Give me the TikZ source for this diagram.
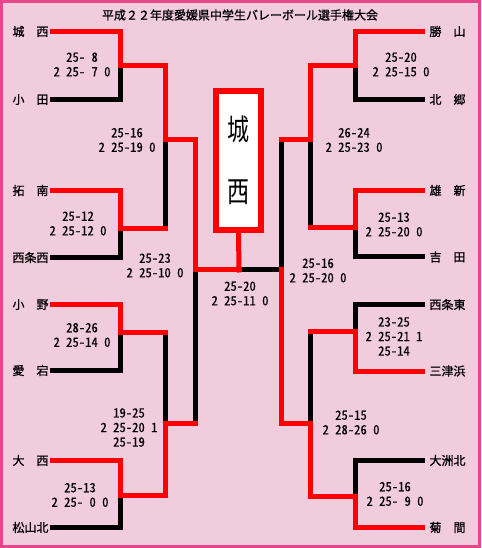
\documentclass[tikz,border=0pt]{standalone}
\usepackage{fontspec}
\usepackage{graphicx}
\setmainfont{Noto Sans CJK JP}
\newfontfamily\scorefont{Noto Sans CJK JP}[RawFeature=+hwid, RawFeature={embolden=0.5}]
\newfontfamily\labelfont{Noto Sans CJK JP}[RawFeature={embolden=0.9}]
\definecolor{cbg}{HTML}{F0CCDD}
\definecolor{cframe}{HTML}{E8458C}
\definecolor{cwin}{HTML}{FF0000}
\definecolor{closs}{HTML}{000000}
\tikzset{
  team/.style={inner sep=0pt, font=\labelfont\fontsize{9}{9}\selectfont},
  teamL/.style={team, anchor=east, outer sep=3pt},
  teamR/.style={team, anchor=west, outer sep=5.25pt},
  score/.style={inner sep=0pt, align=center, font=\scorefont\fontsize{9.5}{10.9}\selectfont},
  bar/.style={line width=3.75pt, line cap=rect, line join=miter},
  win/.style={bar, draw=cwin},
  lose/.style={bar, draw=closs},
  champ/.style={draw=cwin, line width=4.5pt, fill=white, minimum width=33.75pt, minimum height=104.25pt, inner sep=0pt, align=center, font=\fontsize{22}{46.5}\selectfont},
}
\begin{document}
\begin{tikzpicture}[x=0.75pt,y=-0.75pt]
\useasboundingbox (0,0) rectangle (481,548);
\fill[cbg] (0,0) rectangle (481,548);
\draw[cframe, line width=2.25pt] (1.5,1.5) rectangle (479.5,546);
\node[font=\labelfont\fontsize{9}{9}\selectfont] (title) at (240,15) {平成２２年度愛媛県中学生バレーボール選手権大会};
\node[teamL] (josai) at (52.5,31.5) {城　西};
\node[teamL] (oda) at (52.5,99.5) {小　田};
\node[teamL] (takunan) at (52.5,190.5) {拓　南};
\node[teamL] (saijonishi) at (52.5,257.5) {西条西};
\node[teamL] (ono) at (52.5,304.5) {小　野};
\node[teamL] (atago) at (52.5,370.5) {愛　宕};
\node[teamL] (onishi) at (52.5,460.5) {大　西};
\node[teamL] (matsuyamakita) at (52.5,527.5) {松山北};
\node[teamR] (katsuyama) at (422.5,31.5) {勝　山};
\node[teamR] (hokugo) at (422.5,99.5) {北　郷};
\node[teamR] (yushin) at (422.5,190.5) {雄　新};
\node[teamR] (yoshida) at (422.5,257) {吉　田};
\node[teamR] (saijohigashi) at (422.5,304.5) {西条東};
\node[teamR] (mitsuhama) at (422.5,371) {三津浜};
\node[teamR] (ozukita) at (422.5,460.5) {大洲北};
\node[teamR] (kikuma) at (422.5,527.5) {菊　間};
\coordinate (a1) at (120.5,65.5);
\coordinate (a2) at (120.5,228.5);
\coordinate (a3) at (120.5,332.5);
\coordinate (a4) at (120.5,495.5);
\coordinate (b1) at (165.5,139.5);
\coordinate (b2) at (165.5,423.5);
\coordinate (c1) at (195.5,270);
\coordinate (fin) at (239,270);
\coordinate (a5) at (355.5,66);
\coordinate (a6) at (355.5,227.5);
\coordinate (a7) at (355.5,331.5);
\coordinate (a8) at (355.5,496.5);
\coordinate (b3) at (310,139.5);
\coordinate (b4) at (310,423.5);
\coordinate (c2) at (281,270);
\node[champ] (champ) at (238.5,160.5) {\scalebox{0.75}[1]{城}\\\scalebox{0.75}[1]{西}};
\node[score] (s1) at (82,64.5) {25- 8\\2 25- 7 0};
\node[score] (s2) at (127,140) {25-16\\2 25-19 0};
\node[score] (s3) at (78,223.5) {25-12\\2 25-12 0};
\node[score] (s4) at (155,265.5) {25-23\\2 25-10 0};
\node[score] (s5) at (240,293.5) {25-20\\2 25-11 0};
\node[score] (s6) at (82,335) {28-26\\2 25-14 0};
\node[score] (s7) at (129,427.5) {19-25\\2 25-20 1\\25-19};
\node[score] (s8) at (80,495) {25-13\\2 25- 0 0};
\node[score] (s9) at (401,64.5) {25-20\\2 25-15 0};
\node[score] (s10) at (354,140) {26-24\\2 25-23 0};
\node[score] (s11) at (394,224.5) {25-13\\2 25-20 0};
\node[score] (s12) at (318,270.5) {25-16\\2 25-20 0};
\node[score] (s13) at (394,336.5) {23-25\\2 25-21 1\\25-14};
\node[score] (s14) at (351,422.5) {25-15\\2 28-26 0};
\node[score] (s15) at (395,494) {25-16\\2 25- 9 0};
\draw[lose] (oda.east) -| (a1);
\draw[lose] (saijonishi.east) -| (a2);
\draw[lose] (atago.east) -| (a3);
\draw[lose] (matsuyamakita.east) -| (a4);
\draw[lose] (hokugo.west) -| (a5);
\draw[lose] (yoshida.west) -| (a6);
\draw[lose] (saijohigashi.west) -| (a7);
\draw[lose] (ozukita.west) -| (a8);
\draw[lose] (a2 -| b1) -- (b1);
\draw[lose] (a3 -| b2) -- (b2);
\draw[lose] (b2 -| c1) -- (c1);
\draw[lose] (a6 -| b3) -- (b3);
\draw[lose] (a7 -| b4) -- (b4);
\draw[lose] (b3 -| c2) -- (c2);
\draw[lose] (c2) -- (fin);
\draw[win] (josai.east) -| (a1) -| (b1) -| (c1) -- (fin);
\draw[win] (takunan.east) -| (a2) -- (a2 -| b1);
\draw[win] (ono.east) -| (a3) -- (a3 -| b2);
\draw[win] (onishi.east) -| (a4) -| (b2) -- (b2 -| c1);
\draw[win] (katsuyama.west) -| (a5) -| (b3) -- (b3 -| c2);
\draw[win] (yushin.west) -| (a6) -- (a6 -| b3);
\draw[win] (mitsuhama.west) -| (a7) -- (a7 -| b4);
\draw[win] (kikuma.west) -| (a8) -| (b4) -| (c2);
\draw[win] (champ.south) -- (fin);
\end{tikzpicture}
\end{document}
